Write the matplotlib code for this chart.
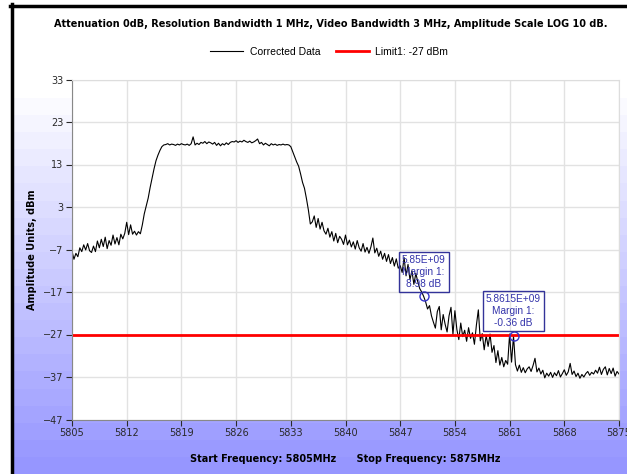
import numpy as np
import matplotlib
matplotlib.use('Agg')
import matplotlib.pyplot as plt
from matplotlib.lines import Line2D

# sweep 5805..5875 MHz, one reading every 0.25 MHz
start_mhz = 5805
stop_mhz = 5875
step_mhz = 0.25

corrected_dbm = [
    -7.4, -9.3, -7.9, -8.7,
    -6.6, -7.5, -5.9, -7.1,
    -5.6, -7.3, -7.7, -6.2,
    -7.5, -5.0, -6.6, -4.6,
    -6.3, -4.1, -6.8, -4.9,
    -6.0, -3.6, -5.7, -4.2,
    -5.9, -3.4, -4.5, -3.2,
    -0.6, -3.5, -1.2, -3.4,
    -2.7, -3.6, -2.8, -3.3,
    -1.2, 1.4, 3.2, 5.1,
    7.6, 9.8, 12.0, 13.9,
    15.2, 16.3, 17.2, 17.6,
    17.7, 17.9, 17.6, 17.8,
    17.7, 17.5, 17.8, 17.6,
    17.9, 17.7, 17.6, 17.8,
    17.5, 17.9, 19.5, 17.6,
    18.0, 17.7, 18.2, 18.0,
    18.4, 17.9, 18.3, 18.1,
    17.8, 18.2, 17.5, 18.0,
    17.4, 17.9, 17.6, 18.1,
    17.7, 18.2, 18.4, 18.3,
    18.6, 18.2, 18.5, 18.3,
    18.7, 18.4, 18.2, 18.5,
    18.1, 18.3, 18.6, 19.0,
    17.9, 18.2, 17.6, 18.0,
    17.7, 17.4, 17.9, 17.6,
    17.8, 17.5, 17.7, 17.6,
    17.8, 17.6, 17.7, 17.6,
    17.2, 16.0, 14.8, 13.6,
    12.6, 10.8, 8.8, 7.4,
    5.0, 2.3, -1.0, -0.5,
    0.9, -1.8, 0.3, -2.2,
    -0.6, -2.6, -3.4, -2.0,
    -4.1, -2.8, -5.0, -3.2,
    -5.4, -3.9, -4.6, -5.8,
    -3.6, -5.9, -4.8, -6.4,
    -5.2, -6.9, -4.9, -6.6,
    -7.4, -5.6, -7.6, -6.5,
    -7.9, -6.4, -4.3, -7.8,
    -6.7, -8.6, -7.4, -9.3,
    -7.9, -9.8, -8.2, -10.3,
    -8.9, -10.9, -9.2, -11.4,
    -10.8, -12.4, -8.9, -13.2,
    -10.5, -14.1, -12.0, -15.2,
    -12.6, -14.6, -16.2, -17.0,
    -18.02, -19.3, -21.0, -20.2,
    -22.6, -24.1, -25.5, -21.6,
    -20.4, -25.9, -22.3, -24.6,
    -26.4, -22.6, -20.6, -27.0,
    -21.4, -25.8, -28.2, -24.3,
    -27.5, -26.0, -28.6, -25.4,
    -27.9, -26.6, -29.3, -24.8,
    -21.2, -28.5, -26.8, -30.6,
    -27.2, -29.8, -26.9, -31.2,
    -29.6, -33.6, -30.8, -34.2,
    -32.4, -34.6, -33.1, -34.0,
    -26.9, -33.5, -27.36, -34.1,
    -35.6, -34.2, -35.9, -34.8,
    -36.0, -35.1, -34.6, -35.7,
    -34.3, -32.6, -35.8, -34.9,
    -36.3, -35.4, -37.2, -36.1,
    -36.8, -35.9, -37.1, -36.0,
    -36.7, -35.5, -37.0, -36.2,
    -35.3, -36.6, -35.8, -33.8,
    -36.4, -35.6, -36.9, -36.1,
    -37.3, -36.4, -37.0, -36.2,
    -35.7, -36.6, -35.9, -36.3,
    -35.4, -36.1, -34.7, -36.4,
    -35.2, -34.6, -36.5, -35.0,
    -36.2, -34.9, -36.8, -35.7,
    -36.3,
]

limit_dbm = -27
marker_mhz = [5850.0, 5861.5]
marker_dbm = [-18.02, -27.36]

x_ticks = [5805, 5812, 5819, 5826, 5833, 5840, 5847, 5854, 5861, 5868, 5875]
y_ticks = [33, 23, 13, 3, -7, -17, -27, -37, -47]

title = 'Attenuation 0dB, Resolution Bandwidth 1 MHz, Video Bandwidth 3 MHz, Amplitude Scale LOG 10 dB.'

W, H = 627, 474
fig = plt.figure(figsize=(W / 100, H / 100), dpi=100)
fig.patch.set_facecolor('white')

# banded white -> lavender backdrop
bg = fig.add_axes([13 / W, 0, 1 - 13 / W, (H - 98) / H])
bg.set_zorder(-5)
bands = 22
shade = np.linspace(0, 1, bands).reshape(-1, 1)
top = np.array([250, 250, 255]) / 255.0
bottom = np.array([150, 150, 255]) / 255.0
grad = top + shade[:, :, None] * (bottom - top)
bg.imshow(grad, aspect='auto', interpolation='nearest', extent=[0, 1, 0, 1])
bg.axis('off')

# window frame
fig.add_artist(Line2D([11.5 / W, 11.5 / W], [0, 1 - 4 / H], color='black', lw=2.5))
fig.add_artist(Line2D([10 / W, 1], [1 - 5.5 / H, 1 - 5.5 / H], color='black', lw=2.5))

ax = fig.add_axes([72 / W, 1 - 419.5 / H, (619 - 72) / W, (419.5 - 79.5) / H])
ax.set_facecolor('white')

freqs = np.arange(start_mhz, stop_mhz + step_mhz / 2, step_mhz)
trace, = ax.plot(freqs, corrected_dbm, color='black', lw=0.8)
limit, = ax.plot([start_mhz, stop_mhz], [limit_dbm, limit_dbm], color='#ff0000', lw=2)

ax.plot(marker_mhz, marker_dbm, 'o', mfc='none', mec='#3333cc', ms=6.5, mew=1)
for f, v in zip(marker_mhz, marker_dbm):
    label = '{:G}\nMargin 1:\n{:.2f} dB'.format(f * 1e6, v - limit_dbm)
    ax.annotate(label, xy=(f, v), xytext=(0, 5.5), textcoords='offset points',
                ha='center', va='bottom', fontsize=7.3, color='#3333aa',
                family='Liberation Sans', linespacing=1.25,
                bbox=dict(boxstyle='square,pad=0.3', fc='none', ec='#333399', lw=1))

ax.set_xlim(start_mhz, stop_mhz)
ax.set_ylim(-47, 33)
ax.set_xticks(x_ticks)
ax.set_yticks(y_ticks)
ax.grid(True, color='#e2e2e2', lw=1)
ax.set_axisbelow(True)
ax.tick_params(labelsize=7, colors='#2a2a2a', length=4, width=0.8, pad=2)
for side in ['left', 'bottom']:
    ax.spines[side].set_color('#888888')
for side in ['top', 'right']:
    ax.spines[side].set_color('#dddddd')

ax.set_ylabel('Amplitude Units, dBm', fontsize=7, fontweight='bold', labelpad=4)
ax.set_xlabel('Start Frequency: 5805MHz      Stop Frequency: 5875MHz',
              fontsize=7, fontweight='bold', labelpad=12)

fig.text(0.527, 1 - 24 / H, title, ha='center', va='center', fontsize=7.0, fontweight='bold')
fig.legend([trace, limit], ['Corrected Data', 'Limit1: -27 dBm'], loc='center',
           bbox_to_anchor=(0.525, 1 - 52 / H), ncol=2, frameon=False,
           prop={'family': 'Liberation Sans', 'size': 7.5}, handlelength=3.2,
           columnspacing=1.5, handletextpad=0.6)

fig.savefig('out.png', dpi=100)
